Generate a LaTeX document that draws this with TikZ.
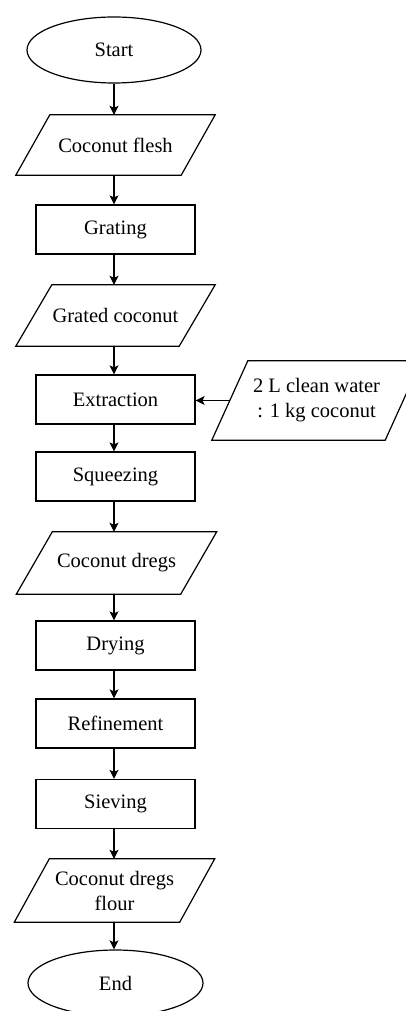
\documentclass[tikz,border=0pt]{standalone}
\usepackage{fontspec}
\setmainfont{Liberation Serif}
\usetikzlibrary{shapes.geometric,arrows.meta,calc}
\newcommand\drawpara[2]{\draw[outline] ([xshift=#2pt]#1.north west) -- (#1.north east) -- ([xshift=-#2pt]#1.south east) -- (#1.south west) -- cycle;}
\begin{document}
\begin{tikzpicture}[x=1pt,y=-1pt,
  every node/.style={font=\fontsize{20.5}{25}\selectfont, align=center, inner sep=0pt},
  outline/.style={draw=black, line width=1.2pt},
  proc/.style={outline, rectangle, minimum width=159pt, minimum height=49pt},
  term/.style={outline, ellipse, minimum width=174pt, minimum height=66pt},
  iobox/.style 2 args={rectangle, minimum width=#1pt, minimum height=#2pt},
  flow/.style={line width=1.2pt, -{Stealth[length=9pt,width=9pt,inset=2pt]}}
]
\useasboundingbox (0,0) rectangle (406,1011);
\fill[white] (0,0) rectangle (406,1011);

\node[term] (start) at (114,50) {Start};
\node[iobox={199}{60}] (flesh) at (115.5,145) {Coconut flesh};
\node[proc] (grating) at (115.5,229.5) {Grating};
\node[iobox={199}{61}] (grated) at (115.5,315.5) {Grated coconut};
\node[proc] (extraction) at (115.5,399.5) {Extraction};
\node[iobox={209}{79}] (water) at (316.5,400.5) {2 L clean water\\: 1 kg coconut};
\node[proc] (squeezing) at (115.5,476.5) {Squeezing};
\node[iobox={200}{62}] (dregs) at (116.5,563) {Coconut dregs};
\node[proc] (drying) at (115.5,645.5) {Drying};
\node[proc] (refinement) at (115.5,723.5) {Refinement};
\node[proc] (sieving) at (115.5,804) {Sieving};
\node[iobox={200}{63}] (flour) at (114.5,890.5) {Coconut dregs\\flour};
\node[term, minimum width=175pt] (end) at (115.5,983) {End};

\drawpara{flesh}{34}
\drawpara{grated}{36}
\drawpara{water}{36}
\drawpara{dregs}{36}
\drawpara{flour}{35}

\coordinate (waterin) at ([xshift=18pt]water.west);

\draw[flow] (start.south) -- (start.south |- flesh.north);
\draw[flow] (start.south |- flesh.south) -- (start.south |- grating.north);
\draw[flow] (start.south |- grating.south) -- (start.south |- grated.north);
\draw[flow] (start.south |- grated.south) -- (start.south |- extraction.north);
\draw[flow] (start.south |- extraction.south) -- (start.south |- squeezing.north);
\draw[flow] (start.south |- squeezing.south) -- (start.south |- dregs.north);
\draw[flow] (start.south |- dregs.south) -- (start.south |- drying.north);
\draw[flow] (start.south |- drying.south) -- (start.south |- refinement.north);
\draw[flow] (start.south |- refinement.south) -- (start.south |- sieving.north);
\draw[flow] (start.south |- sieving.south) -- (start.south |- flour.north);
\draw[flow] (start.south |- flour.south) -- (start.south |- end.north);
\draw[flow] (waterin) -- (extraction.east |- waterin);
\end{tikzpicture}
\end{document}
